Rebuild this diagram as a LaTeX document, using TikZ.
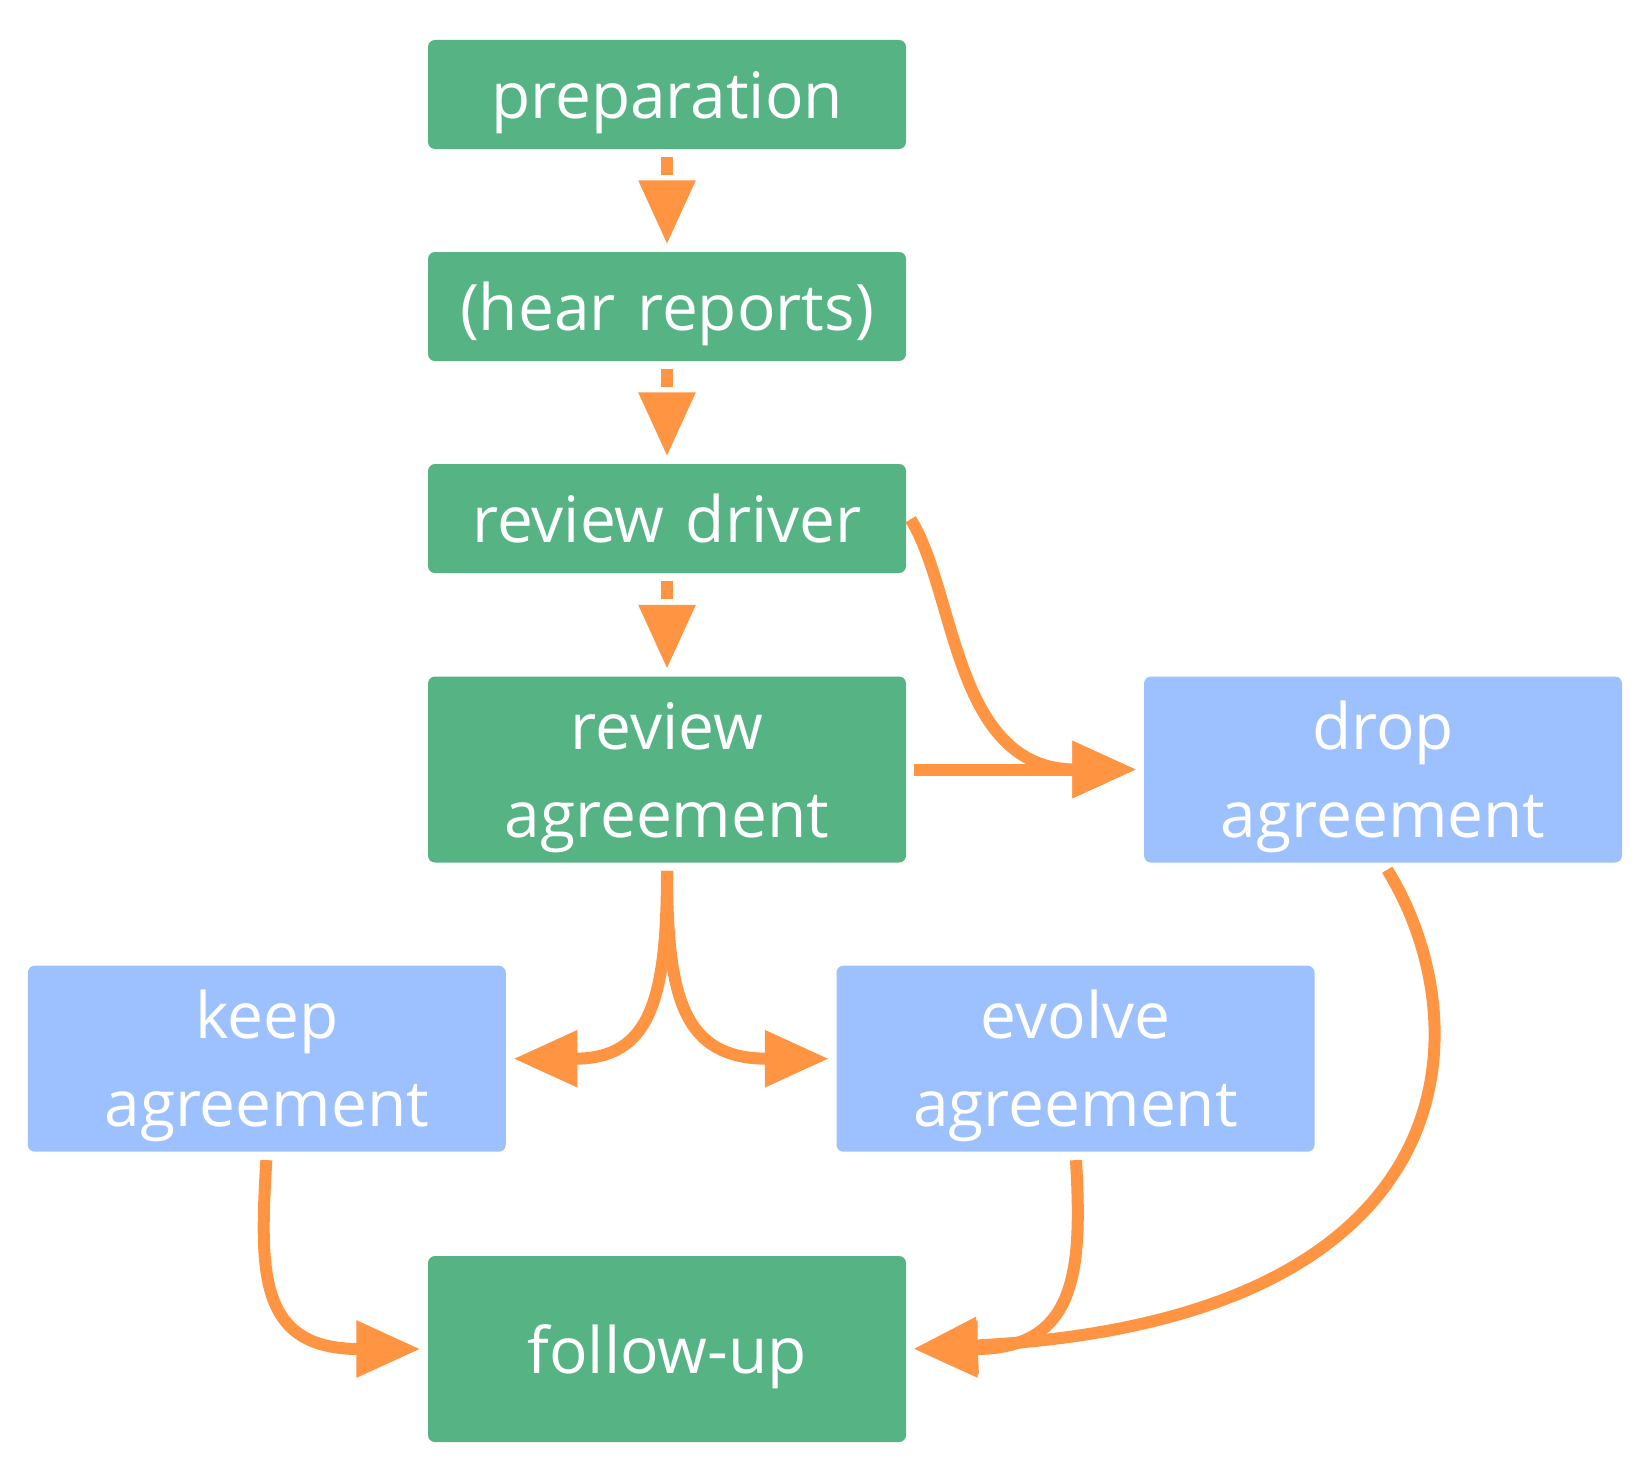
\documentclass[tikz,border=0pt]{standalone}
\usepackage{fontspec}
\setmainfont{Open Sans}
\usetikzlibrary{arrows.meta,calc}
\definecolor{phasegreen}{RGB}{86,179,132}
\definecolor{optionblue}{RGB}{157,192,255}
\definecolor{floworange}{RGB}{255,148,66}

\begin{document}
\begin{tikzpicture}[x=0.5pt,y=-0.5pt,
  box/.style={rounded corners=3.5pt,text=white,minimum width=239pt,text width=239pt,
    inner sep=0pt,align=center,font=\fontsize{32}{44}\selectfont,
    execute at begin node={\vrule width 0pt height 34pt depth 10pt},
    execute at end node={\vrule width 0pt height 0pt depth 10pt}},
  phase/.style={box,fill=phasegreen,minimum height=54.5pt},
  tall/.style={minimum height=93pt},
  option/.style={box,tall,fill=optionblue},
  flow/.style={draw=floworange,line width=6pt,shorten <=4pt,shorten >=0.6pt,
    -{Triangle[length=32pt,width=27pt,sep=3pt]}},
  weak/.style={flow,dash pattern=on 9pt off 15pt}]
\useasboundingbox (0,0) rectangle (1652,1477);
\node[phase] (prep) at (667,94.5) {preparation};
\node[phase] (hear) at (667,306.5) {(hear reports)};
\node[phase] (driver) at (667,518.5) {review driver};
\node[phase,tall] (agree) at (667,769.5) {review\\agreement};
\node[option] (drop) at (1383,769.5) {drop\\agreement};
\node[option] (keep) at (266.8,1058.7) {keep\\agreement};
\node[option] (evolve) at (1075.5,1058.7) {evolve\\agreement};
\node[phase,tall] (follow) at (667,1349) {follow-up};

\draw[weak] (prep) -- (hear);
\draw[weak] (hear) -- (driver);
\draw[weak] (driver) -- (agree);
\draw[flow] ([yshift=3pt]driver.east) .. controls +(50,80) and +(-190,0) .. (drop.west);
\draw[flow] (agree) -- (drop);
\draw[flow] (agree.south) .. controls +(0,137) and +(144,0) .. (keep.east);
\draw[flow] (agree.south) .. controls +(0,137) and +(-152,0) .. (evolve.west);
\draw[flow] (keep.south) .. controls +(-7,120) and +(-170,0) .. (follow.west);
\draw[flow] (evolve.south) .. controls +(7,120) and +(170,0) .. (follow.east);
\draw[flow] (drop.south) .. controls +(97,157) and +(574,-29) .. (follow.east);
\end{tikzpicture}
\end{document}
